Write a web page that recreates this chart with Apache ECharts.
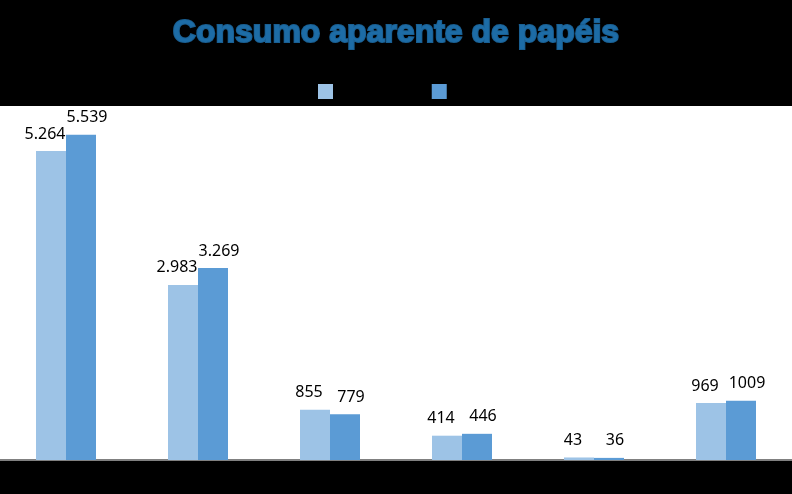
<!DOCTYPE html>
<html>
<head>
<meta charset="utf-8">
<script src="https://cdn.jsdelivr.net/npm/echarts@6/dist/echarts.min.js"></script>
<style>html,body{margin:0;padding:0;background:#000;}#c{width:792px;height:494px;}</style>
</head>
<body>
<div id="c"></div>
<script>
var categories = ["Embalagem", "Imprimir e escrever", "Cartões", "Sanitários", "Imprensa", "Outros"];
var seriesNames = ["2020", "2021"];
var values1 = [5264, 2983, 855, 414, 43, 969];
var values2 = [5539, 3269, 779, 446, 36, 1009];
var labels1 = ["5.264", "2.983", "855", "414", "43", "969"];
var labels2 = ["5.539", "3.269", "779", "446", "36", "1009"];

var chart = echarts.init(document.getElementById('c'));
function lbl(arr, dx){
  return {show:true, position:'top', distance:9, offset:[dx,0], color:'#000', fontSize:16,
    fontFamily:'Noto Sans', formatter:function(p){return arr[p.dataIndex];}};
}
chart.setOption({
  backgroundColor:'#000',
  animation:false,
  title:{text:'Consumo aparente de papéis', left:'center', top:12,
    textStyle:{color:'#1D6CA6', fontSize:32, fontWeight:'bold', fontFamily:'Liberation Sans',
      textBorderColor:'#1A5F92', textBorderWidth:2}},
  legend:{data:seriesNames, top:79, left:313, itemWidth:15, itemHeight:15, itemGap:64,
    icon:'rect', textStyle:{color:'#000', fontSize:13, fontFamily:'Noto Sans'}},
  grid:{left:0, right:0, top:106, bottom:34, show:true, backgroundColor:'#fff', borderWidth:0},
  xAxis:{type:'category', data:categories,
    axisLine:{show:true, lineStyle:{color:'#808080', width:2}},
    axisTick:{show:false},
    axisLabel:{color:'#000', fontSize:13, fontFamily:'Noto Sans'}},
  yAxis:{type:'value', min:0, max:6030, show:false, splitLine:{show:false}},
  series:[
    {name:seriesNames[0], type:'bar', data:values1, barWidth:30, barGap:'0%',
      itemStyle:{color:'#9DC3E6'}, label:lbl(labels1, -6)},
    {name:seriesNames[1], type:'bar', data:values2, barWidth:30, barGap:'0%',
      itemStyle:{color:'#5B9BD5'}, label:lbl(labels2, 6)}
  ]
});
</script>
</body>
</html>
